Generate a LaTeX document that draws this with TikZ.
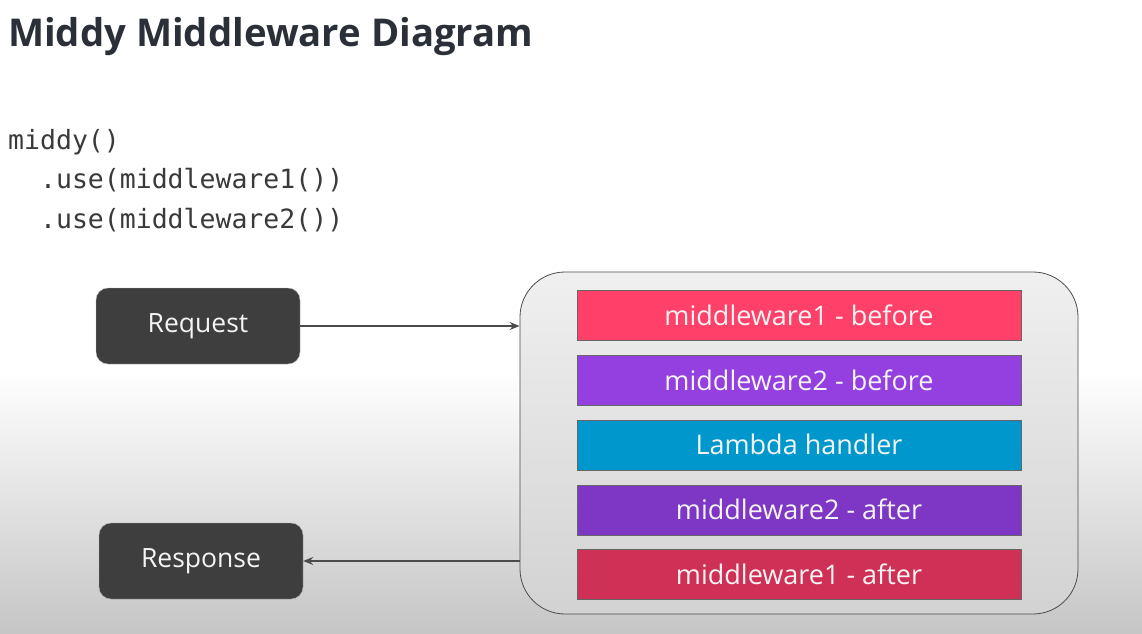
\documentclass[tikz,border=0pt]{standalone}
\usepackage{fontspec}
\setmainfont{Open Sans}
\setmonofont{DejaVu Sans Mono}
\usetikzlibrary{arrows.meta, positioning}
\definecolor{titlegray}{HTML}{2B3038}
\definecolor{codegray}{HTML}{3A3A3A}
\definecolor{boxgray}{HTML}{3E3E3E}
\definecolor{mwonebefore}{HTML}{FF4069}
\definecolor{mwtwobefore}{HTML}{9440E0}
\definecolor{lambdablue}{HTML}{0098CC}
\definecolor{mwtwoafter}{HTML}{7E36C4}
\definecolor{mwoneafter}{HTML}{CF3056}
\definecolor{bartext}{HTML}{F4F4F4}

\begin{document}
\begin{tikzpicture}[x=1pt, y=1pt, >={Stealth[length=10pt, width=8pt]},
    node distance=14.5pt,
    io/.style={rectangle, rounded corners=12pt, fill=boxgray, draw=gray!60,
        minimum width=204pt, minimum height=76pt, text=bartext,
        font=\fontsize{26.5}{31}\selectfont},
    bar/.style={rectangle, draw=black!60, thin, minimum width=444pt,
        minimum height=50pt, text=bartext, font=\fontsize{27}{32}\selectfont},
    code/.style={anchor=base west, text=codegray, inner sep=0pt,
        font=\ttfamily\fontsize{26.5}{31}\selectfont},
    flow/.style={->, draw=black!70, line width=1.3pt}]

    % background
    \fill[white] (0,0) rectangle (1142,633);
    \shade[top color=white, bottom color=gray!45, draw=none] (0,0) rectangle (1142,260);
    \useasboundingbox (0,0) rectangle (1142,633);

    \node[anchor=base west, text=titlegray, inner sep=0pt,
        font=\bfseries\fontsize{38.3}{46}\selectfont] (title) at (8,586) {Middy Middleware Diagram};

    \node[code] (line1) at (8,483) {middy()};
    \node[code] (line2) at (8,444) {\ \ .use(middleware1())};
    \node[code] (line3) at (8,405) {\ \ .use(middleware2())};

    \node[io] (req) at (198,307) {Request};
    \node[io] (resp) at (201,72) {Response};

    \node[rectangle, rounded corners=45pt, draw=black!70, thick,
        top color=gray!12, bottom color=gray!35,
        minimum width=558pt, minimum height=342pt] (chain) at (799,190) {};

    \node[bar, fill=mwonebefore] (mw1b) at (799,318) {middleware1 - before};
    \node[bar, fill=mwtwobefore] (mw2b) [below=of mw1b] {middleware2 - before};
    \node[bar, fill=lambdablue] (lambda) [below=of mw2b] {Lambda handler};
    \node[bar, fill=mwtwoafter] (mw2a) [below=of lambda] {middleware2 - after};
    \node[bar, fill=mwoneafter] (mw1a) [below=of mw2a] {middleware1 - after};

    \draw[flow] (req.east) -- (req.east -| chain.west);
    \draw[flow] (resp.east -| chain.west) -- (resp.east);
\end{tikzpicture}
\end{document}
